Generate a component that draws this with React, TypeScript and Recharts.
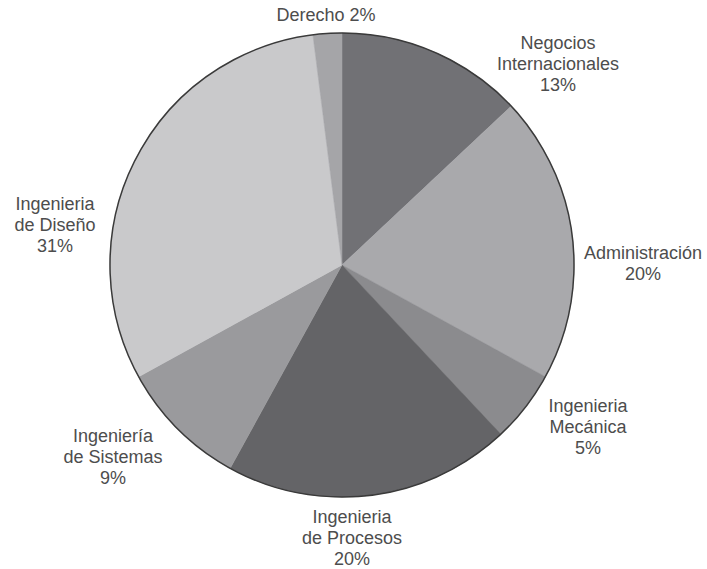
import { PieChart, Pie, Cell } from 'recharts'

// categories, each label split into the lines shown
const labelLines = [
  ['Negocios', 'Internacionales'],
  ['Administración'],
  ['Ingenieria', 'Mecánica'],
  ['Ingenieria', 'de Procesos'],
  ['Ingeniería', 'de Sistemas'],
  ['Ingenieria', 'de Diseño'],
  ['Derecho'],
]
const shares = [13, 20, 5, 20, 9, 31, 2]

// layout / style (kept apart from the data)
const sliceColors = ['#717175', '#a9a9ac', '#8b8b8e', '#646467', '#9a9a9d', '#c9c9cb', '#a5a5a8']
// label anchor offsets from pie centre, px (centre of the text block)
const labelOffsets = [
  [216, -201],
  [301, -2],
  [246, 162],
  [10, 273],
  [-229, 192],
  [-287, -40],
  [-16, -250],
]

const data = labelLines.map((lines, i) => ({ name: lines.join(' '), value: shares[i] }))
const outline = [{ name: 'outline', value: 1 }]

const LINE_H = 21

const renderLabel = (props: any) => {
  const { cx, cy, index } = props
  const lines = [...labelLines[index]]
  const pct = `${shares[index]}%`
  // Derecho puts the share on the same line
  const rows = index === 6 ? [`${lines[0]} ${pct}`] : [...lines, pct]
  const [dx, dy] = labelOffsets[index]
  const top = cy + dy - ((rows.length - 1) * LINE_H) / 2
  return (
    <text
      key={`lbl-${index}`}
      x={cx + dx}
      y={top}
      textAnchor="middle"
      dominantBaseline="central"
      fill="#4d4d4d"
      fontSize={18}
      fontFamily="'Liberation Sans', Arial, sans-serif"
    >
      {rows.map((r, j) => (
        <tspan key={j} x={cx + dx} y={top + j * LINE_H}>
          {r}
        </tspan>
      ))}
    </text>
  )
}

export default function App() {
  return (
    <div style={{ position: 'absolute', left: 0, top: 0, background: '#fff' }}>
      <PieChart width={707} height={569} margin={{ top: 0, right: 0, bottom: 0, left: 0 }}>
        <Pie
          data={data}
          dataKey="value"
          nameKey="name"
          cx={342}
          cy={265}
          outerRadius={232}
          startAngle={90}
          endAngle={-270}
          label={renderLabel}
          labelLine={false}
          isAnimationActive={false}
        >
          {data.map((d, i) => (
            <Cell key={d.name} fill={sliceColors[i]} stroke={sliceColors[i]} strokeWidth={0.5} />
          ))}
        </Pie>
        <Pie
          data={outline}
          dataKey="value"
          cx={342}
          cy={265}
          outerRadius={232}
          innerRadius={232}
          startAngle={90}
          endAngle={-270}
          fill="none"
          stroke="#3a3a3a"
          strokeWidth={1.5}
          isAnimationActive={false}
          legendType="none"
        />
      </PieChart>
    </div>
  )
}
